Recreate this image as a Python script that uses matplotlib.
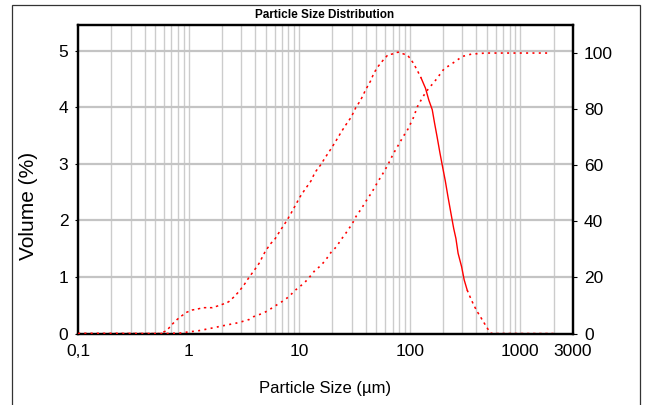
import numpy as np
import matplotlib.pyplot as plt
from matplotlib.ticker import FixedLocator, NullFormatter
from matplotlib.patches import Rectangle

# Curva de frecuencia (Volume %)
tam_dens = [0.1, 0.55, 0.636, 0.695, 0.79, 0.87, 0.96, 1.08, 1.19, 1.35, 1.64, 1.83,
            2.05, 2.30, 2.55, 2.85, 3.2, 3.54, 3.9, 4.34, 4.93, 5.47, 6.08, 6.74,
            7.63, 8.3, 9.2, 10.2, 11.3, 12.8, 13.9, 15.6, 17.3, 19.6, 21.7, 24.1,
            26.6, 29.6, 32.4, 36.0, 39.9, 44.3, 47.5, 51.5, 57.1, 63.4, 70.9, 78.6,
            87.3, 96.2, 107.6, 116.9, 127, 139, 149, 160, 168, 177, 188, 197, 210,
            222, 236, 250, 262, 274, 295, 311, 331, 362, 399, 454, 494, 537, 560, 2000]
vol_dens = [0, 0, 0.05, 0.145, 0.25, 0.315, 0.375, 0.416, 0.43, 0.457, 0.457, 0.487,
            0.52, 0.56, 0.64, 0.74, 0.87, 1.0, 1.11, 1.24, 1.45, 1.58, 1.68, 1.82,
            1.98, 2.10, 2.26, 2.42, 2.55, 2.70, 2.85, 2.98, 3.12, 3.28, 3.42, 3.57,
            3.70, 3.83, 3.99, 4.13, 4.31, 4.47, 4.61, 4.72, 4.83, 4.93, 4.95, 4.98,
            4.95, 4.92, 4.79, 4.66, 4.52, 4.34, 4.13, 3.96, 3.72, 3.48, 3.19, 2.98, 2.70,
            2.42, 2.13, 1.86, 1.68, 1.42, 1.18, 0.95, 0.77, 0.59, 0.42, 0.24, 0.12, 0.01, 0, 0]

# Curva acumulada (%)
tam_acum = [0.1, 0.65, 0.7, 0.88, 1.0, 1.2, 1.35, 1.66, 2.07, 2.55, 2.85, 3.2, 3.54,
            3.87, 4.34, 4.87, 5.39, 5.99, 6.65, 7.53, 8.3, 9.2, 10.2, 11.3, 12.8, 13.9,
            15.6, 17.3, 19.4, 21.7, 24.1, 26.6, 30.3, 32.9, 36.7, 40.4, 45.7, 51.5,
            56.2, 63.4, 70.9, 80.1, 87.3, 96.2, 107.6, 117.5, 132, 149, 165.6, 204,
            254, 300, 360, 486, 1760]
pct_acum = [0, 0, 0.05, 0.2, 0.6, 0.9, 1.3, 2.0, 2.8, 3.5, 3.9, 4.5, 5.0,
            6.0, 6.7, 7.5, 8.5, 9.7, 10.8, 12.2, 13.6, 15.4, 16.8, 18.3, 20.7, 22.5,
            24.1, 26.1, 28.9, 30.9, 33.6, 35.9, 39.2, 41.9, 44.6, 47.3, 50.5, 54.1,
            56.5, 60.1, 64.0, 67.6, 70.2, 72.8, 76.8, 80.9, 84.5, 87.5, 89.5, 94.3,
            96.8, 98.8, 99.6, 100, 100]

ticks_x = [0.1, 1, 10, 100, 1000, 3000]
etiquetas_x = ["0,1", "1", "10", "100", "1000", "3000"]
ticks_izq = [0, 1, 2, 3, 4, 5]
ticks_der = [0, 20, 40, 60, 80, 100]

plt.rcParams['font.family'] = ['Liberation Sans', 'DejaVu Sans']

fig = plt.figure(figsize=(6.48, 4.05), dpi=100)
W, H = 648, 405
ax = fig.add_axes([78 / W, 1 - 333.5 / H, (573 - 78) / W, (333.5 - 25) / H])

# rejilla vertical (decadas y subdivisiones)
minor = []
for dec in [0.1, 1, 10, 100, 1000]:
    for k in range(1, 10):
        v = dec * k
        if 0.1 < v < 3000:
            minor.append(v)
for v in minor:
    ax.axvline(v, color='#cccccc', lw=1.0, zorder=0)
for v in ticks_izq[1:]:
    ax.axhline(v, color='#c4c4c4', lw=1.6, zorder=0)

rojo = '#ff0000'
xd = np.array(tam_dens)
yd = np.array(vol_dens)
i1 = tam_dens.index(127)
i2 = tam_dens.index(331)
ax.plot(xd[:i1 + 1], yd[:i1 + 1], color=rojo, lw=1.1, ls=(0, (1.6, 2.4)), zorder=3)
ax.plot(xd[i1:i2 + 1], yd[i1:i2 + 1], color=rojo, lw=1.0, zorder=3)
ax.plot(xd[i2:], yd[i2:], color=rojo, lw=1.1, ls=(0, (1.6, 2.4)), zorder=3)

ax.set_xscale('log')
ax.set_xlim(0.1, 3000)
ax.set_ylim(0, 5.46)
ax.xaxis.set_major_locator(FixedLocator(ticks_x))
ax.xaxis.set_minor_locator(FixedLocator([]))
ax.xaxis.set_minor_formatter(NullFormatter())
ax.set_xticklabels(etiquetas_x)
ax.set_yticks(ticks_izq)
ax.tick_params(axis='x', length=0, labelsize=12.5, pad=7.5)
ax.tick_params(axis='y', length=2, labelsize=12.5, pad=5, direction='out')

ax2 = ax.twinx()
ax2.plot(tam_acum, pct_acum, color=rojo, lw=1.2, ls=(0, (1.2, 2.6)), zorder=3)
ax2.set_ylim(0, 110)
ax2.set_yticks(ticks_der)
ax2.tick_params(axis='y', length=3, labelsize=12.5, pad=5, direction='out')
ax2.set_xlim(0.1, 3000)

for a in (ax, ax2):
    for s in a.spines.values():
        s.set_linewidth(1.6)
        s.set_color('black')

fig.text(325 / W, 1 - 15 / H, "Particle Size Distribution", ha='center', va='center',
         fontsize=8.5, fontweight='bold')
fig.text(325 / W, 1 - 388 / H, "Particle Size (µm)", ha='center', va='center',
         fontsize=12)
fig.text(29 / W, 1 - 206 / H, "Volume (%)", ha='center', va='center', rotation=90,
         fontsize=15)

# marco exterior
fig.patches.append(Rectangle((12 / W, -0.01), (640 - 12) / W, 1 - 4.5 / H + 0.01,
                             transform=fig.transFigure, fill=False,
                             edgecolor='#333333', lw=0.9))

fig.savefig('out.png', dpi=100)
